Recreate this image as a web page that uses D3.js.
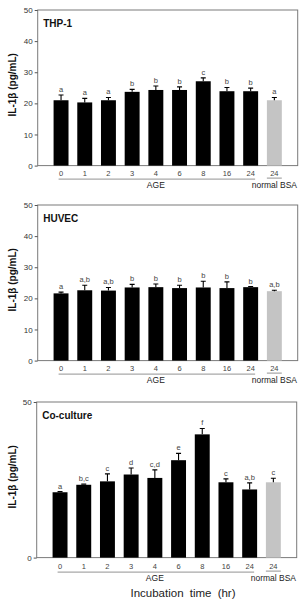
<!DOCTYPE html>
<html>
<head>
<meta charset="utf-8">
<script src="https://cdn.jsdelivr.net/npm/d3@7"></script>
<style>
  body { margin: 0; background: #fff; }
  svg { display: block; font-family: "Liberation Sans", Arial, sans-serif; }
</style>
</head>
<body>
<div id="chart"></div>
<script>
// categories (incubation time in hr); last one is the normal BSA control
const categories = ['0', '1', '2', '3', '4', '6', '8', '16', '24', 'BSA24'];
const tickLabels = ['0', '1', '2', '3', '4', '6', '8', '16', '24', '24'];
const panelNames = ['THP-1', 'HUVEC', 'Co-culture'];

const thpMean = [21.0, 20.3, 21.0, 23.7, 24.3, 24.3, 27.1, 23.9, 23.9, 21.0];
const thpErr = [1.7, 1.3, 0.9, 0.8, 1.3, 1.0, 1.1, 1.2, 1.0, 0.9];
const thpLetters = ['a', 'a', 'a', 'b', 'b', 'b', 'c', 'b', 'b', 'a'];

const huvecMean = [21.6, 22.6, 22.5, 23.5, 23.6, 23.3, 23.5, 23.3, 23.6, 22.3];
const huvecErr = [0.4, 1.6, 1.0, 1.0, 1.0, 0.9, 2.0, 2.0, 0.2, 0.3];
const huvecLetters = ['a', 'a,b', 'a,b', 'b', 'b', 'b', 'b', 'b', 'b', 'a,b'];

const coMean = [21.0, 23.4, 24.5, 26.7, 25.6, 31.3, 39.6, 24.2, 21.9, 24.2];
const coErr = [0.2, 0.2, 2.4, 2.1, 2.6, 2.2, 1.9, 1.1, 2.1, 1.3];
const coLetters = ['a', 'b,c', 'c', 'd', 'c,d', 'e', 'f', 'c', 'a,b', 'c'];

const yTicksFull = [0, 10, 20, 30, 40, 50];
const yTicksEnds = [0, 50];

const width = 302;
const height = 599;

const svg = d3.select('#chart')
  .append('svg')
  .attr('width', width)
  .attr('height', height);

// panel placement
const layout = [
  { left: 37.7, top: 10, mean: thpMean, err: thpErr, letters: thpLetters, ticks: yTicksFull },
  { left: 37.7, top: 205, mean: huvecMean, err: huvecErr, letters: huvecLetters, ticks: yTicksFull },
  { left: 36.7, top: 402, mean: coMean, err: coErr, letters: coLetters, ticks: yTicksEnds }
];
const plotW = 260;
const plotH = 155.6;

layout.forEach((p, i) => {
  const g = svg.append('g');

  const x = d3.scaleBand()
    .domain(categories)
    .range([p.left, p.left + plotW])
    .paddingInner(0.37)
    .paddingOuter(0.67);

  const y = d3.scaleLinear()
    .domain([0, 50])
    .range([p.top + plotH, p.top]);

  // frame
  g.append('rect')
    .attr('x', p.left)
    .attr('y', p.top)
    .attr('width', plotW)
    .attr('height', plotH)
    .attr('fill', 'none')
    .attr('stroke', '#7a7a7a')
    .attr('stroke-width', 1);

  // y axis
  const yAxis = d3.axisLeft(y).tickValues(p.ticks).tickSize(3).tickPadding(2);
  const ya = g.append('g')
    .attr('class', 'y axis')
    .attr('transform', `translate(${p.left}, 0)`)
    .call(yAxis);
  ya.select('.domain').remove();
  ya.selectAll('.tick line').attr('stroke', '#555');
  ya.selectAll('.tick text')
    .attr('fill', '#333')
    .attr('font-size', 8)
    .attr('font-family', 'Liberation Sans, Arial, sans-serif');

  // bars
  g.selectAll('rect.bar')
    .data(categories)
    .join('rect')
    .attr('class', 'bar')
    .attr('x', (d) => x(d))
    .attr('width', x.bandwidth())
    .attr('y', (d, j) => y(p.mean[j]))
    .attr('height', (d, j) => y(0) - y(p.mean[j]))
    .attr('fill', (d, j) => (j === categories.length - 1 ? '#c4c4c4' : '#000'));

  // error bars (upper only)
  const cap = 2.5;
  g.selectAll('path.err')
    .data(categories)
    .join('path')
    .attr('class', 'err')
    .attr('fill', 'none')
    .attr('stroke', '#000')
    .attr('stroke-width', 1.1)
    .attr('d', (d, j) => {
      const cx = x(d) + x.bandwidth() / 2;
      const y0 = y(p.mean[j]);
      const y1 = y(p.mean[j] + p.err[j]);
      return `M${cx},${y0}V${y1}M${cx - cap},${y1}H${cx + cap}`;
    });

  // significance letters
  g.selectAll('text.letter')
    .data(categories)
    .join('text')
    .attr('class', 'letter')
    .attr('x', (d) => x(d) + x.bandwidth() / 2)
    .attr('y', (d, j) => y(p.mean[j] + p.err[j]) - 3)
    .attr('text-anchor', 'middle')
    .attr('font-size', 7.5)
    .attr('fill', '#444')
    .text((d, j) => p.letters[j]);

  // x tick labels
  const base = p.top + plotH;
  const lblY = i === 2 ? base + 11.5 : base + 10.5;
  g.selectAll('text.xlab')
    .data(categories)
    .join('text')
    .attr('class', 'xlab')
    .attr('x', (d) => x(d) + x.bandwidth() / 2)
    .attr('y', lblY)
    .attr('text-anchor', 'middle')
    .attr('font-size', 7.5)
    .attr('fill', '#444')
    .text((d, j) => tickLabels[j]);

  // group underlines
  const lineY = lblY + 3;
  const first = categories[0];
  const lastAge = categories[categories.length - 2];
  const bsa = categories[categories.length - 1];
  g.append('line')
    .attr('x1', x(first) + 5)
    .attr('x2', x(lastAge) + x.bandwidth() - 3)
    .attr('y1', lineY)
    .attr('y2', lineY)
    .attr('stroke', '#777')
    .attr('stroke-width', 0.8);
  g.append('line')
    .attr('x1', x(bsa))
    .attr('x2', x(bsa) + x.bandwidth())
    .attr('y1', lineY - 1)
    .attr('y2', lineY - 1)
    .attr('stroke', '#777')
    .attr('stroke-width', 0.8);

  g.append('text')
    .attr('x', (x(first) + x(lastAge) + x.bandwidth()) / 2)
    .attr('y', lineY + 9)
    .attr('text-anchor', 'middle')
    .attr('font-size', 8.5)
    .attr('fill', '#222')
    .text('AGE');
  g.append('text')
    .attr('x', x(bsa) + x.bandwidth() / 2)
    .attr('y', lineY + 9)
    .attr('text-anchor', 'middle')
    .attr('font-size', 8.5)
    .attr('fill', '#222')
    .text('normal BSA');

  // panel name
  g.append('text')
    .attr('x', p.left + 5.5)
    .attr('y', p.top + 17)
    .attr('font-size', 10)
    .attr('font-weight', 'bold')
    .attr('fill', '#111')
    .text(panelNames[i]);

  // y title
  g.append('text')
    .attr('transform', `translate(16, ${p.top + plotH / 2 - 3}) rotate(-90)`)
    .attr('text-anchor', 'middle')
    .attr('font-size', 10)
    .attr('font-weight', 'bold')
    .attr('fill', '#111')
    .text('IL-1β (pg/mL)');
});

// x title
svg.append('text')
  .attr('x', 183)
  .attr('y', 596.5)
  .attr('text-anchor', 'middle')
  .attr('font-size', 11.5)
  .attr('word-spacing', 3)
  .attr('fill', '#222')
  .text('Incubation time (hr)');
</script>
</body>
</html>
